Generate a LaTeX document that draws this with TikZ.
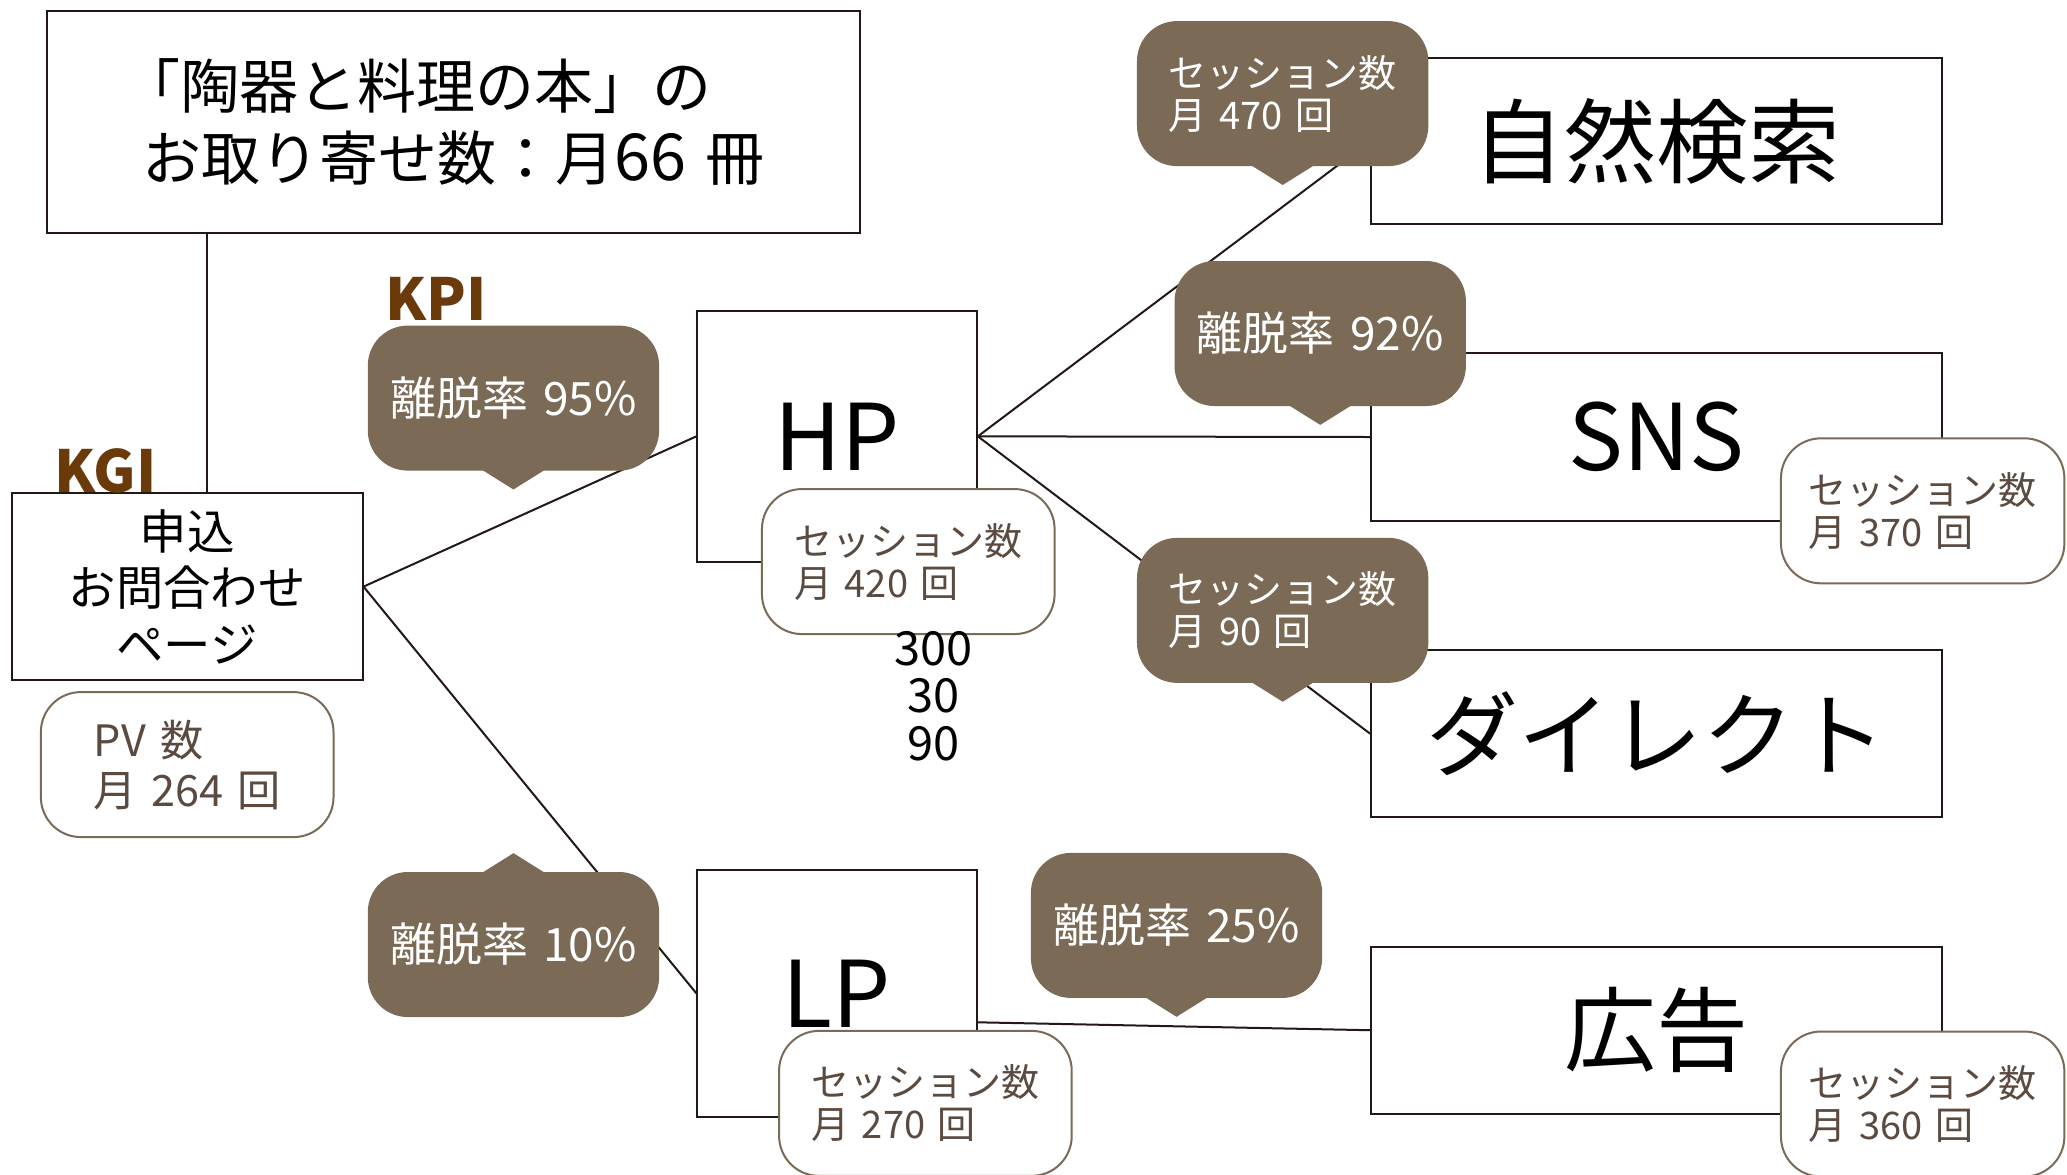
\documentclass[tikz,border=0pt]{standalone}
\usepackage{fontspec}
\setmainfont{Noto Sans CJK JP}
\newfontfamily\dgf{Noto Sans CJK JP}[Scale=1.1]
\newcommand\dg[1]{{\dgf #1}}
\newcommand\gap{\hspace{0.33em}}
\usetikzlibrary{calc}
\definecolor{linec}{HTML}{231815}
\definecolor{bubc}{HTML}{7A6A56}
\definecolor{sessline}{HTML}{7A6A56}
\definecolor{sesstext}{HTML}{5A4A40}
\definecolor{kcol}{HTML}{6B3A0A}
\newcommand\fsz[2]{\fontsize{#1}{#2}\selectfont}
\tikzset{
  boxnode/.style={draw=linec, line width=1pt, fill=white, inner sep=0pt},
  bignode/.style={boxnode, font=\fsz{46}{50}},
  bubble/.style={fill=bubc, rounded corners=20pt, text=white, inner sep=0pt,
    minimum width=221*0.6591pt, minimum height=110*0.6591pt},
  bubtxt/.style={bubble, font=\fsz{23}{25}, align=center},
  bubsess/.style={bubble, font=\fsz{19}{21}, align=left},
  sess/.style={draw=sessline, line width=1pt, fill=white, rounded corners=20pt,
    text=sesstext, font=\fsz{19}{21}, align=left, inner sep=0pt,
    minimum width=222*0.6591pt, minimum height=110*0.6591pt},
  conn/.style={draw=linec, line width=1pt},
  klabel/.style={text=kcol, font=\fsz{29}{32}\bfseries, inner sep=0pt}
}
\begin{document}
\begin{tikzpicture}[x=0.6591pt, y=-0.6591pt]
\useasboundingbox (0,0) rectangle (1568,891);
\clip (0,0) rectangle (1568,891);
\fill[white] (0,0) rectangle (1568,891);

% main boxes
\node[boxnode, minimum width=616*0.6591pt, minimum height=169*0.6591pt,
  font=\fsz{29.5}{35.6}, align=left] (title) at (344,92.5)
  {\hspace{-0.35em}「陶器と料理の本」の\\お取り寄せ数：月\dg{66}\gap 冊};
\node[boxnode, minimum width=266*0.6591pt, minimum height=142*0.6591pt,
  font=\fsz{23.7}{28.3}, align=center] (moushi) at (142,445)
  {申込\\お問合わせ\\ページ};
\node[bignode, minimum width=212*0.6591pt, minimum height=190*0.6591pt] (hp) at (635,331) {HP};
\node[bignode, minimum width=212*0.6591pt, minimum height=187*0.6591pt] (lp) at (635,753.5) {LP};
\node[bignode, minimum width=433*0.6591pt, minimum height=126*0.6591pt] (shizen) at (1256.5,107) {自然検索};
\node[bignode, minimum width=433*0.6591pt, minimum height=127*0.6591pt] (sns) at (1256.5,331.5) {SNS};
\node[bignode, minimum width=433*0.6591pt, minimum height=127*0.6591pt] (direct) at (1256.5,556.5) {ダイレクト};
\node[bignode, minimum width=433*0.6591pt, minimum height=127*0.6591pt] (koukoku) at (1256.5,781.5) {広告};

% connectors
\coordinate (vx) at (157,0);
\draw[conn] (title.south -| vx) -- (moushi.north -| vx);
\draw[conn] (moushi.east) -- (hp.west);
\draw[conn] (moushi.east) -- (lp.west);
\draw[conn] (hp.east) -- (shizen.west);
\draw[conn] (hp.east) -- (sns.west);
\draw[conn] (hp.east) -- (direct.west);
\draw[conn] ($(lp.east)+(0,22)$) -- (koukoku.west);

% labels
\node[klabel] (kgi) at (80,357) {KGI};
\node[klabel] (kpi) at (331,227) {KPI};

% PV box
\node[sess, font=\fsz{21.6}{25}] (pv) at (142,580) {PV\gap 数\\月\gap 264\gap 回};

% bubbles
\node[bubtxt] (b95) at (389.5,302) {離脱率\gap 95\%};
\fill[bubc] ($(b95.south)+(-24,-1)$) -- ++(24,15) -- ++(24,-15) -- cycle;
\node[bubtxt] (b10) at (389.5,716.5) {離脱率\gap 10\%};
\fill[bubc] ($(b10.north)+(-24,1)$) -- ++(24,-15) -- ++(24,15) -- cycle;
\node[bubsess] (b470) at (973,71) {セッション数\\月\gap 470\gap 回};
\fill[bubc] ($(b470.south)+(-24,-1)$) -- ++(24,15) -- ++(24,-15) -- cycle;
\node[bubtxt] (b92) at (1001.5,253) {離脱率\gap 92\%};
\fill[bubc] ($(b92.south)+(-24,-1)$) -- ++(24,15) -- ++(24,-15) -- cycle;
\node[bubsess] (b90) at (973,463) {セッション数\\月\gap 90\gap 回};
\fill[bubc] ($(b90.south)+(-24,-1)$) -- ++(24,15) -- ++(24,-15) -- cycle;
\node[bubtxt] (b25) at (892.5,702) {離脱率\gap 25\%};
\fill[bubc] ($(b25.south)+(-24,-1)$) -- ++(24,15) -- ++(24,-15) -- cycle;

% session boxes
\node[sess] (s420) at (689,426) {セッション数\\月\gap 420\gap 回};
\node[sess] (s270) at (702,837) {セッション数\\月\gap 270\gap 回};
\node[sess, minimum width=215*0.6591pt] (s370) at (1458.5,387.5) {セッション数\\月\gap 370\gap 回};
\node[sess, minimum width=215*0.6591pt] (s360) at (1458.5,837.5) {セッション数\\月\gap 360\gap 回};

% numbers
\node[font=\fsz{23.5}{23.7}, align=center, inner sep=0pt] (nums) at (708,528) {300\\30\\90};
\end{tikzpicture}
\end{document}
